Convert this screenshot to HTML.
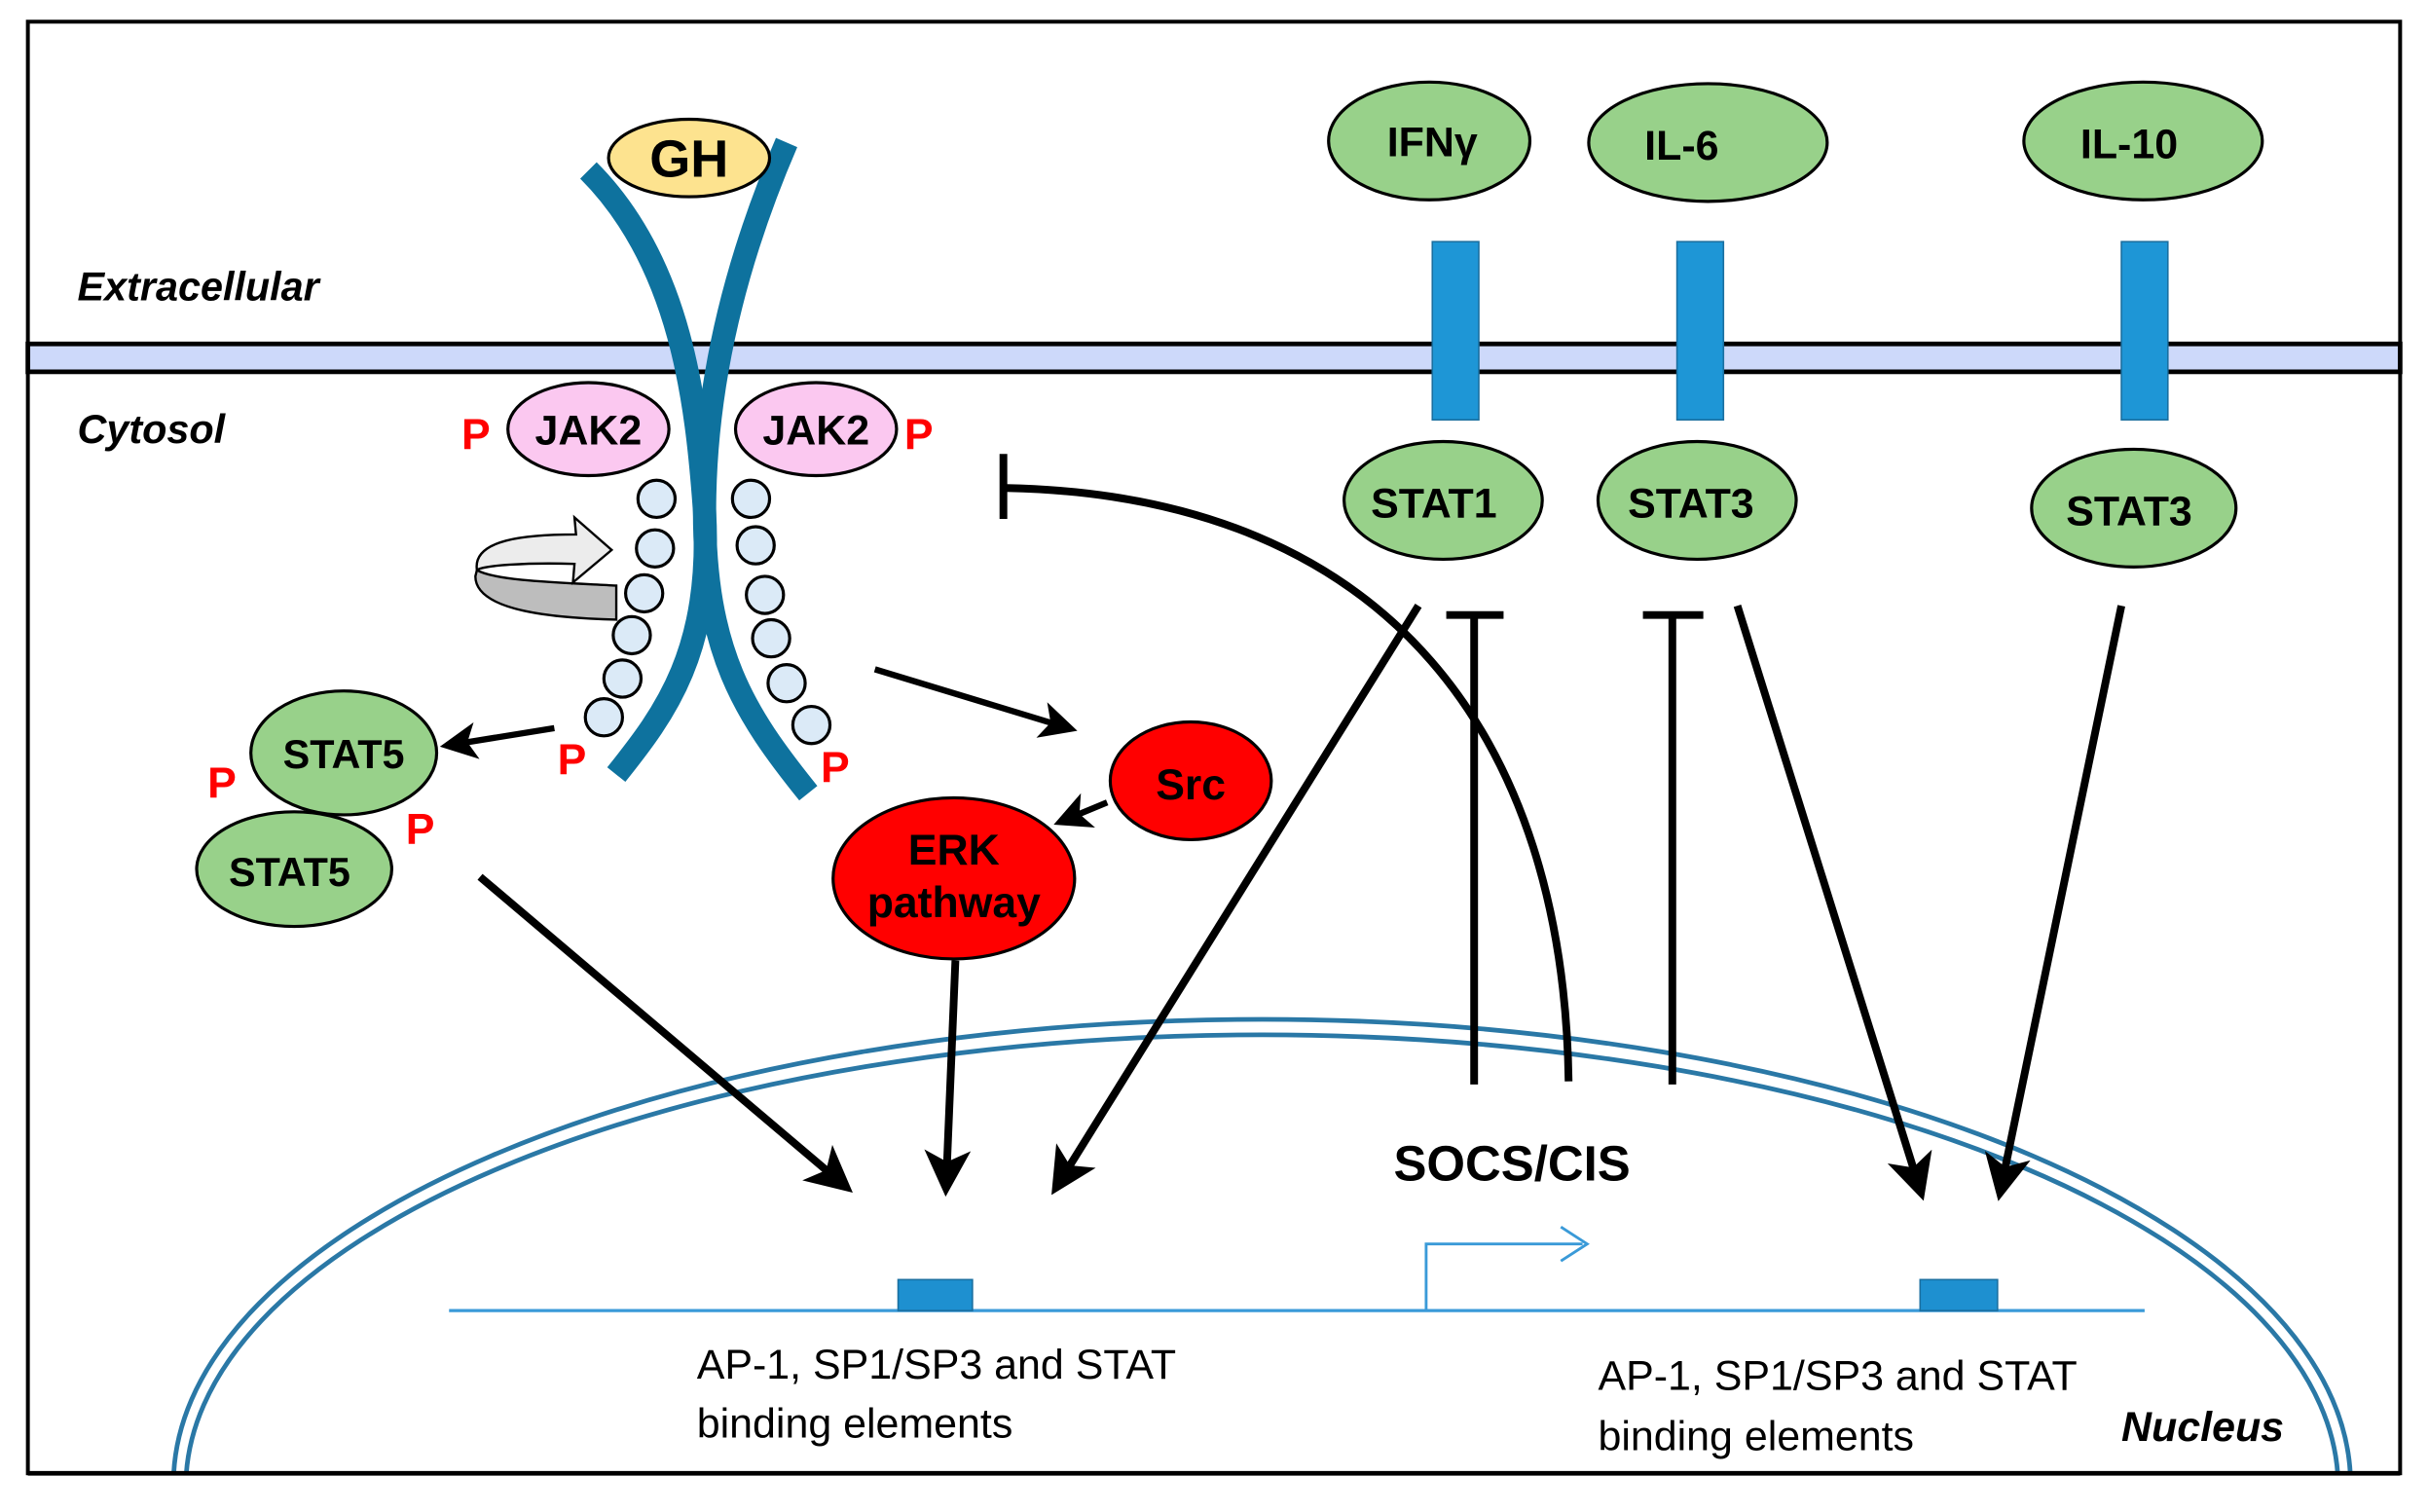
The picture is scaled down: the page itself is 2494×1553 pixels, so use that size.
<!DOCTYPE html>
<html><head><meta charset="utf-8"><style>
html,body{margin:0;padding:0;background:#fff;overflow:hidden;width:2494px;height:1553px}
svg{display:block}
text{font-family:"Liberation Sans",sans-serif;font-weight:bold}
</style></head><body>
<svg width="2494" height="1553" viewBox="0 0 1568 976" preserveAspectRatio="none" xmlns="http://www.w3.org/2000/svg" overflow="hidden">
<defs>
<marker id="ah" markerWidth="6" markerHeight="6" refX="4.5" refY="3" orient="auto" markerUnits="strokeWidth"><path d="M0,0 L6,3 L0,6 L1.5,3 Z" fill="#000"/></marker>
<clipPath id="fr"><rect x="18" y="14" width="1532" height="937"/></clipPath>
</defs>
<rect x="18" y="14" width="1532" height="937" fill="#fff" stroke="#000" stroke-width="2.5"/>
<!-- membrane -->
<rect x="18" y="222" width="1532" height="18" fill="#cdd9fa" stroke="#000" stroke-width="3"/>
<text x="50" y="194" font-size="26" font-style="italic">Extracellular</text>
<text x="50" y="286" font-size="26" font-style="italic">Cytosol</text>
<!-- nucleus -->
<g clip-path="url(#fr)">
<ellipse cx="815" cy="958" rx="703" ry="300" fill="none" stroke="#2a78a6" stroke-width="3"/>
<ellipse cx="815" cy="960" rx="695" ry="292" fill="none" stroke="#2a78a6" stroke-width="3"/>
</g>
<line x1="18" y1="951" x2="1550" y2="951" stroke="#000" stroke-width="3"/>
<text x="1370" y="930" font-size="27" font-style="italic">Nucleus</text>
<!-- DNA -->
<line x1="290" y1="846" x2="1385" y2="846" stroke="#3a9ad8" stroke-width="2"/>
<rect x="580" y="826" width="48" height="20" fill="#1e90d0" stroke="#1a6fa0"/>
<rect x="1240" y="826" width="50" height="20" fill="#1e90d0" stroke="#1a6fa0"/>
<path d="M921,846 V803 H1022 M1008,792 L1025,803 L1008,814" fill="none" stroke="#3a9ad8" stroke-width="1.8"/>
<text x="450" y="890" font-size="27" style="font-weight:normal">AP-1, SP1/SP3 and STAT</text>
<text x="450" y="928" font-size="27" style="font-weight:normal">binding elements</text>
<text x="1032" y="897" font-size="27" style="font-weight:normal">AP-1, SP1/SP3 and STAT</text>
<text x="1032" y="936" font-size="27" style="font-weight:normal">binding elements</text>
<text x="900" y="762" font-size="32">SOCS/CIS</text>
<!-- GH receptor -->
<path d="M380,110 C440,170 450,260 455,330 C460,420 430,460 398,500" fill="none" stroke="#0e729e" stroke-width="15"/>
<path d="M508,92 C470,180 455,260 455,330 C455,420 480,460 522,512" fill="none" stroke="#0e729e" stroke-width="15"/>
<ellipse cx="445" cy="102" rx="52" ry="25" fill="#fde38f" stroke="#000" stroke-width="2"/>
<text x="445" y="114" font-size="34" text-anchor="middle">GH</text>
<ellipse cx="380" cy="277" rx="52" ry="30" fill="#fbc8f0" stroke="#000" stroke-width="2"/>
<text x="380" y="287" font-size="27" text-anchor="middle">JAK2</text>
<ellipse cx="527" cy="277" rx="52" ry="30" fill="#fbc8f0" stroke="#000" stroke-width="2"/>
<text x="527" y="287" font-size="27" text-anchor="middle">JAK2</text>
<g fill="#dbeaf7" stroke="#000" stroke-width="2">
<circle cx="424" cy="322" r="12"/><circle cx="423" cy="354" r="12"/><circle cx="416" cy="383" r="12"/><circle cx="408" cy="410" r="12"/><circle cx="402" cy="438" r="12"/><circle cx="390" cy="463" r="12"/>
<circle cx="485" cy="322" r="12"/><circle cx="488" cy="352" r="12"/><circle cx="494" cy="384" r="12"/><circle cx="498" cy="412" r="12"/><circle cx="508" cy="441" r="12"/><circle cx="524" cy="468" r="12"/>
</g>
<path d="M307,372 C307,395 360,399 398,400 V378 C360,376 320,375 308,368 Z" fill="#bdbdbd" stroke="#000" stroke-width="1.5"/>
<path d="M308,368 C305,348 340,345 372,345 L371,334 L395,355 L370,376 L371,364 C340,363 312,365 308,368 Z" fill="#ececec" stroke="#000" stroke-width="1.5"/>
<g fill="#ff0000" font-size="28">
<text x="298" y="290">P</text><text x="584" y="290">P</text>
<text x="360" y="500">P</text><text x="530" y="505">P</text>
<text x="134" y="515">P</text><text x="262" y="545">P</text>
</g>
<ellipse cx="222" cy="486" rx="60" ry="40" fill="#98d18a" stroke="#000" stroke-width="2"/>
<text x="222" y="496" font-size="26" text-anchor="middle">STAT5</text>
<ellipse cx="190" cy="561" rx="63" ry="37" fill="#98d18a" stroke="#000" stroke-width="2"/>
<text x="187" y="572" font-size="26" text-anchor="middle">STAT5</text>
<ellipse cx="769" cy="504" rx="52" ry="38" fill="#ff0000" stroke="#000" stroke-width="2"/>
<text x="769" y="516" font-size="28" text-anchor="middle">Src</text>
<ellipse cx="616" cy="567" rx="78" ry="52" fill="#ff0000" stroke="#000" stroke-width="2"/>
<text x="616" y="558" font-size="28" text-anchor="middle">ERK</text>
<text x="616" y="592" font-size="28" text-anchor="middle">pathway</text>
<g stroke="#000" stroke-width="2">
<ellipse cx="923" cy="91" rx="65" ry="38" fill="#98d18a"/>
<ellipse cx="1103" cy="92" rx="77" ry="38" fill="#98d18a"/>
<ellipse cx="1384" cy="91" rx="77" ry="38" fill="#98d18a"/>
<ellipse cx="932" cy="323" rx="64" ry="38" fill="#98d18a"/>
<ellipse cx="1096" cy="323" rx="64" ry="38" fill="#98d18a"/>
<ellipse cx="1378" cy="328" rx="66" ry="38" fill="#98d18a"/>
</g>
<text x="925" y="101" font-size="27" text-anchor="middle">IFNγ</text>
<text x="1086" y="103" font-size="27" text-anchor="middle">IL-6</text>
<text x="1375" y="102" font-size="27" text-anchor="middle">IL-10</text>
<text x="926" y="334" font-size="27" text-anchor="middle">STAT1</text>
<text x="1092" y="334" font-size="27" text-anchor="middle">STAT3</text>
<text x="1375" y="339" font-size="27" text-anchor="middle">STAT3</text>
<g fill="#1e96d6" stroke="#1a6fa0" stroke-width="1">
<rect x="925" y="156" width="30" height="115"/>
<rect x="1083" y="156" width="30" height="115"/>
<rect x="1370" y="156" width="30" height="115"/>
</g>
<g stroke="#000" stroke-width="5" fill="none">
<line x1="358" y1="470" x2="290" y2="481" stroke-width="4" marker-end="url(#ah)"/>
<line x1="565" y1="432" x2="690" y2="470" stroke-width="4" marker-end="url(#ah)"/>
<line x1="715" y1="518" x2="686" y2="530" stroke-width="4" marker-end="url(#ah)"/>
<line x1="310" y1="566" x2="545" y2="765" marker-end="url(#ah)"/>
<line x1="617" y1="620" x2="611" y2="765" marker-end="url(#ah)"/>
<line x1="916" y1="391" x2="683" y2="765" marker-end="url(#ah)"/>
<line x1="1122" y1="391" x2="1240" y2="768" marker-end="url(#ah)"/>
<line x1="1370" y1="391" x2="1292" y2="768" marker-end="url(#ah)"/>
<line x1="952" y1="700" x2="952" y2="397"/><line x1="934" y1="397" x2="971" y2="397"/>
<line x1="1080" y1="700" x2="1080" y2="397"/><line x1="1061" y1="397" x2="1100" y2="397"/>
<path d="M1013,698 C1010,480 900,320 650,315"/>
<line x1="648" y1="293" x2="648" y2="335"/>
</g>
</svg>
</body></html>
